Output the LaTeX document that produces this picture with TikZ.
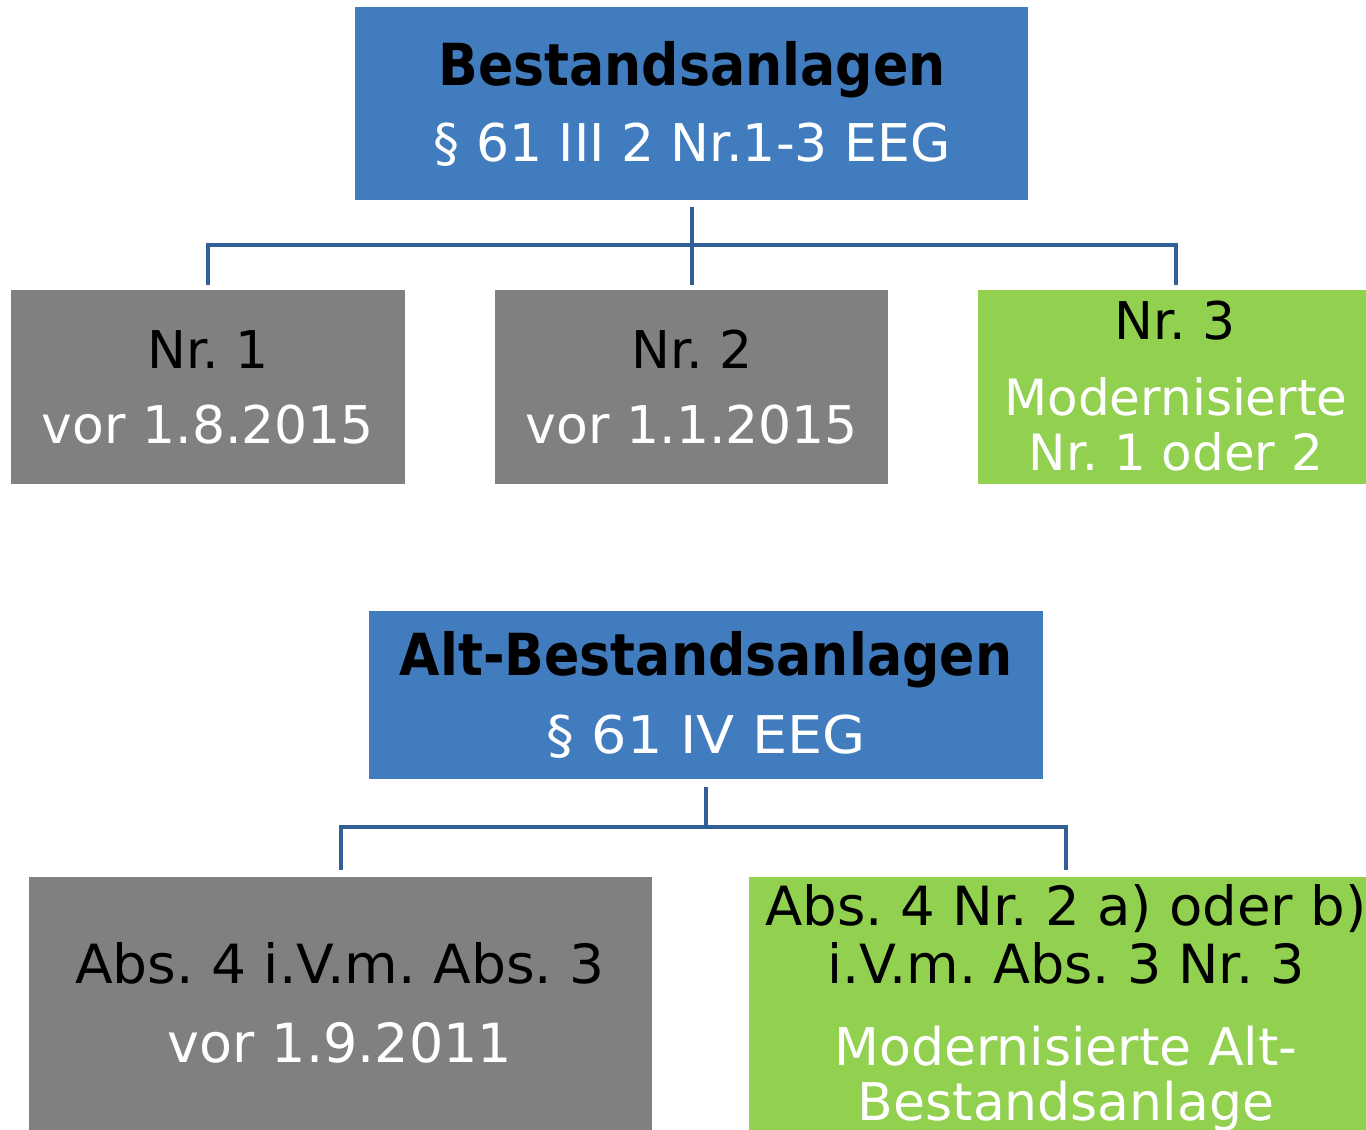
\documentclass[tikz,border=0pt]{standalone}
\usepackage{fontspec}
\usepackage{graphicx}
\setmainfont{DejaVu Sans}
\frenchspacing
\definecolor{boxblue}{HTML}{417DBE}
\definecolor{boxgray}{HTML}{808080}
\definecolor{boxgreen}{HTML}{92D050}
\definecolor{connblue}{HTML}{2F5F96}
\newcommand{\reg}{\fontsize{52}{60}\selectfont\frenchspacing}
\newcommand{\regb}{\fontsize{54}{62}\selectfont\frenchspacing}
\newcommand{\regs}{\fontsize{50}{58}\selectfont\frenchspacing}
\newcommand{\hd}[1]{\scalebox{0.9}[1]{\fontsize{58}{66}\selectfont\bfseries #1}}
\tikzset{
  x=1pt,y=-1pt,
  boxnode/.style={anchor=north west,inner sep=0pt,outer sep=0pt,draw=none},
  txt/.style={anchor=base,inner sep=0pt,font=\reg},
  txtb/.style={anchor=base,inner sep=0pt,font=\regb},
  txts/.style={anchor=base,inner sep=0pt,font=\regs},
  conn/.style={draw=connblue,line width=4pt}
}
\begin{document}
\begin{tikzpicture}
\useasboundingbox (0,0) rectangle (1366,1130);
\clip (0,0) rectangle (1366,1130);
% boxes
\node[boxnode,fill=boxblue,minimum width=673pt,minimum height=193pt] (top) at (355,7) {};
\node[boxnode,fill=boxgray,minimum width=394pt,minimum height=194pt] (n1) at (11,290) {};
\node[boxnode,fill=boxgray,minimum width=393pt,minimum height=194pt] (n2) at (495,290) {};
\node[boxnode,fill=boxgreen,minimum width=396pt,minimum height=194pt] (n3) at (978,290) {};
\node[boxnode,fill=boxblue,minimum width=674pt,minimum height=168pt] (alt) at (369,611) {};
\node[boxnode,fill=boxgray,minimum width=623pt,minimum height=300pt] (a1) at (29,877) {};
\node[boxnode,fill=boxgreen,minimum width=634pt,minimum height=300pt] (a2) at (749,877) {};
% connectors
\coordinate (h1) at (692,245);
\draw[conn] ([yshift=-7pt]top.south) -- ([yshift=5pt]n2.north);
\draw[conn] ([yshift=5pt]n1.north) |- (h1) -| ([yshift=5pt]n3.north);
\coordinate (h2) at (706,827);
\draw[conn] ([yshift=-8pt]alt.south) -- (h2);
\draw[conn] ([yshift=7pt]a1.north) |- (h2) -| ([yshift=7pt]a2.north);
% texts
\node[anchor=base,inner sep=0pt] (t1) at (692,85) {\hd{Bestandsanlagen}};
\node[txt,text=white] (t2) at (692,161) {§ 61 III 2 Nr.1-3 EEG};
\node[txt] (n1a) at (208,368) {Nr. 1};
\node[txt,text=white] (n1b) at (208,443) {vor 1.8.2015};
\node[txt] (n2a) at (692,368) {Nr. 2};
\node[txt,text=white] (n2b) at (692,443) {vor 1.1.2015};
\node[txt] (n3a) at (1175,339) {Nr. 3};
\node[txts,text=white] (n3b) at (1176,415) {Modernisierte};
\node[txts,text=white] (n3c) at (1176,470) {Nr. 1 oder 2};
\node[anchor=base,inner sep=0pt] (t3) at (706,675) {\hd{Alt-Bestandsanlagen}};
\node[txt,text=white] (t4) at (706,753) {\scalebox{1.07}[1]{§ 61 IV EEG}};
\node[txtb] (a1a) at (340,983) {\scalebox{1.02}[1]{Abs. 4 i.V.m. Abs. 3}};
\node[txtb,text=white] (a1b) at (340,1062) {vor 1.9.2011};
\node[txtb] (a2a) at (1066,925) {\scalebox{1.01}[1]{Abs. 4 Nr. 2 a) oder b)}};
\node[txtb] (a2b) at (1066,983) {i.V.m. Abs. 3 Nr. 3};
\node[txt,text=white] (a2c) at (1066,1065) {Modernisierte Alt-};
\node[txt,text=white] (a2d) at (1066,1120) {Bestandsanlage};
\end{tikzpicture}
\end{document}
